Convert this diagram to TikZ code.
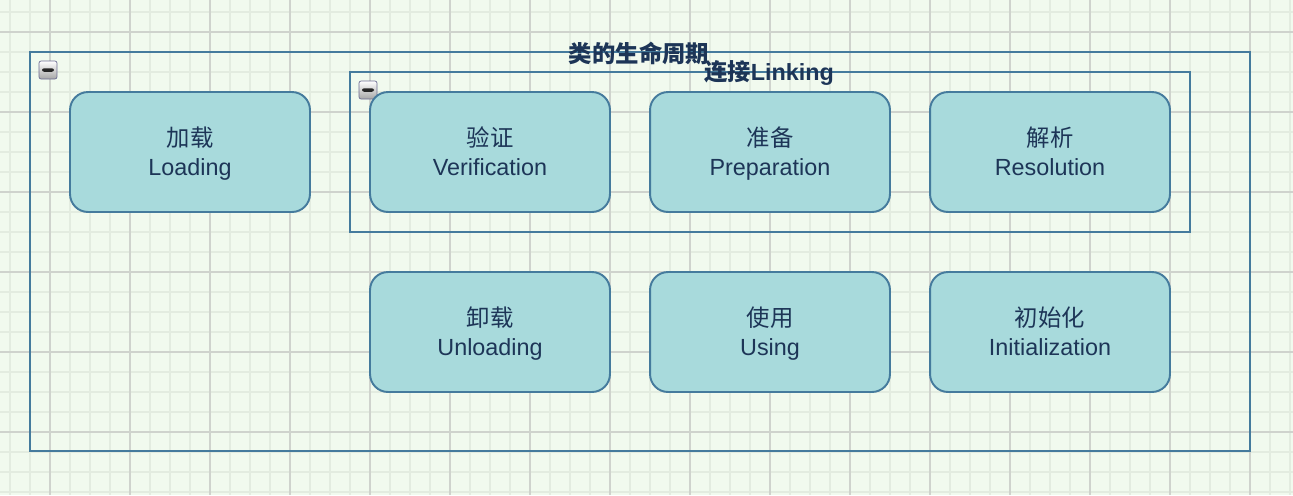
\documentclass[tikz,border=0pt]{standalone}
\usepackage{fontspec}
\setmainfont{Liberation Sans}
\newfontfamily\cjk{Noto Sans CJK SC}
\usetikzlibrary{calc}

\definecolor{paper}{HTML}{F1FAEE}
\definecolor{gridminor}{HTML}{E3ECE0}
\definecolor{gridmajor}{HTML}{CFD3CD}
\definecolor{stagefill}{HTML}{A8DADC}
\definecolor{stageline}{HTML}{457B9D}
\definecolor{ink}{HTML}{1D3557}

\newcommand{\stagetext}[2]{{\cjk #1}\rule{0pt}{15pt}\\#2\strut}

\tikzset{
  stage/.style={draw=stageline, fill=stagefill, line width=1.1pt,
    rounded corners=0.36cm, minimum width=4.8cm, minimum height=2.4cm,
    align=center, text=ink, font=\fontsize{13.3}{16.5}\selectfont},
  group/.style={draw=stageline, line width=1.1pt},
  grouptitle/.style={text=ink, inner sep=0pt,
    font=\fontsize{13.3}{16}\selectfont\bfseries},
  minusbox/.style={draw=gray!85!blue, rounded corners=1.2pt, top color=white,
    bottom color=gray!70, minimum size=0.36cm, inner sep=0pt,
    path picture={\fill[black!85]
      ($(path picture bounding box.center)+(-0.12cm,-0.035cm)$) rectangle
      ($(path picture bounding box.center)+(0.12cm,0.035cm)$);}}
}

\begin{document}
\begin{tikzpicture}[x=0.02cm, y=-0.02cm]
		\useasboundingbox (0,0) rectangle (1293,495);
		\fill[paper] (0,0) rectangle (1293,495);
		% grid
		\foreach \x in {10,30,...,1290}
			\draw[gridminor, line width=0.6pt] (\x,0) -- (\x,495);
		\foreach \y in {12,32,...,492}
			\draw[gridminor, line width=0.6pt] (0,\y) -- (1293,\y);
		\foreach \x in {50,130,...,1250}
			\draw[gridmajor, line width=0.6pt] (\x,0) -- (\x,495);
		\foreach \y in {32,112,...,432}
			\draw[gridmajor, line width=0.6pt] (0,\y) -- (1293,\y);

		% containers
		\draw[group] (30,52) rectangle (1250,451);
		\draw[group] (350,72) rectangle (1190,232);
		\node[minusbox] (lifeicon) at (48,70) {};
		\node[minusbox] (linkicon) at (368,90) {};
		\node[grouptitle] (life) at (639,53) {\cjk 类的生命周期};
		\node[grouptitle] (link) at (769,73) {{\cjk 连接}Linking};

		% stages
		\node[stage] (load) at (190,152) {\stagetext{加载}{Loading}};
		\node[stage] (verify) at (490,152) {\stagetext{验证}{Verification}};
		\node[stage] (prepare) at (770,152) {\stagetext{准备}{Preparation}};
		\node[stage] (resolve) at (1050,152) {\stagetext{解析}{Resolution}};
		\node[stage] (unload) at (490,332) {\stagetext{卸载}{Unloading}};
		\node[stage] (use) at (770,332) {\stagetext{使用}{Using}};
		\node[stage] (init) at (1050,332) {\stagetext{初始化}{Initialization}};
	\end{tikzpicture}
\end{document}
